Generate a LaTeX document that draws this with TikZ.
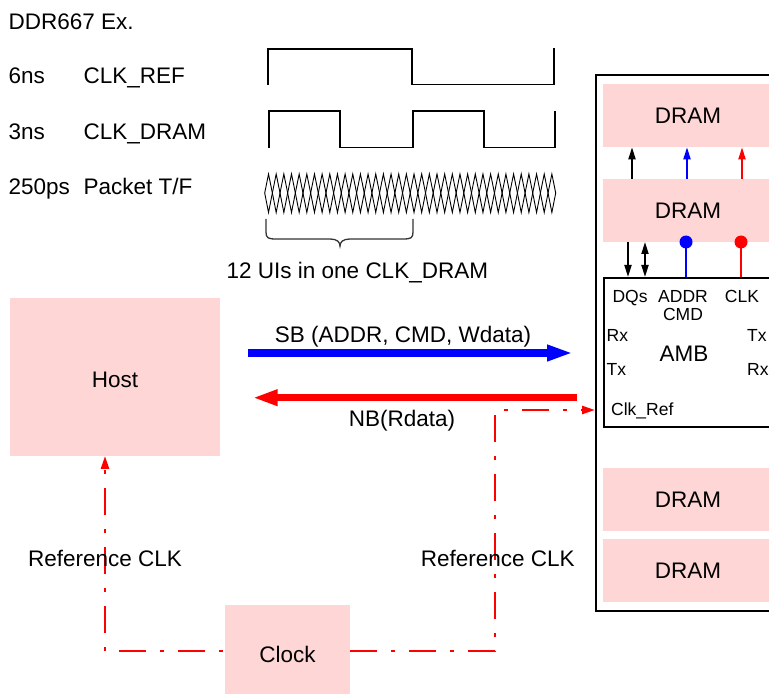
\documentclass[tikz,border=0pt]{standalone}
\usepackage{fontspec}
\setmainfont{Liberation Sans}
\usetikzlibrary{arrows.meta,calc}
\definecolor{pinkfill}{RGB}{255,214,214}
\newcommand\bigfnt{\fontsize{22.5}{27}\selectfont}
\newcommand\smallfnt{\fontsize{17.5}{19}\selectfont}
\begin{document}
\begin{tikzpicture}[x=1pt,y=-1pt,
  lbl/.style={font=\bigfnt, inner sep=0pt},
  slbl/.style={font=\smallfnt, inner sep=0pt},
  pinkbox/.style={fill=pinkfill, draw=none, font=\bigfnt, inner sep=0pt},
  frame/.style={draw, line width=2pt, inner sep=0pt, anchor=north west},
  wave/.style={line width=1.7pt, line join=miter},
  eye/.style={line width=0.9pt},
  bus/.style={line width=1.8pt},
  tipS/.style={-{Triangle[length=12pt,width=7pt]}},
  tipSS/.style={{Triangle[length=12pt,width=7pt]}-{Triangle[length=12pt,width=7pt]}},
  refclk/.style={red, line width=2.5pt, dash pattern=on 27pt off 14pt on 4pt off 14pt},
  reftip/.style={-{Triangle[length=13pt,width=8pt]}},
]
\useasboundingbox (0,0) rectangle (769,695);
\clip (0,0) rectangle (769,695);

% ---- timing labels
\node[lbl, anchor=base west] (title) at (8.4,30) {DDR667 Ex.};
\node[lbl, anchor=base west] (t6) at (8.4,83.3) {6ns};
\node[lbl, anchor=base west] (nref) at (83.4,83.3) {CLK\_REF};
\node[lbl, anchor=base west] (t3) at (8.4,140) {3ns};
\node[lbl, anchor=base west] (ndram) at (83.4,140) {CLK\_DRAM};
\node[lbl, anchor=base west] (t250) at (8.4,195) {250ps};
\node[lbl, anchor=base west] (npkt) at (83.4,195) {Packet T/F};

% ---- waveforms
\draw[wave] (268,85) -- (268,49) -- (412,49) -- (412,84.5) -- (554,84.5) -- (554,48.5);
\draw[wave] (269,148) -- (269,111) -- (340,111) -- (340,147.5) -- (413,147.5) -- (413,111) -- (484,111) -- (484,147.5) -- (555,147.5) -- (555,111.5);
\foreach \i in {0,...,37}{
  \draw[eye] ({264.7+\i*7.658},193) -- ({264.7+(\i+0.5)*7.658},174) -- ({264.7+(\i+1)*7.658},193) -- ({264.7+(\i+0.5)*7.658},212.5) -- cycle;
}
\draw[line width=1.3pt, black!80] (266,219) -- (266,232) .. controls (266,238) and (268,239) .. (276,239) -- (330,239) .. controls (337,239) and (340,242) .. (340,246) .. controls (340,242) and (343,239) .. (350,239) -- (403,239) .. controls (411,239) and (413,238) .. (413,232) -- (413,219);
\node[lbl, anchor=base west] (ui) at (226.5,278.3) {12 UIs in one CLK\_DRAM};

% ---- module
\node[frame, minimum width=200pt, minimum height=535.5pt] (module) at (595,74.5) {};
\node[pinkbox, minimum width=170pt, minimum height=63pt] (dram1) at (688,115.6) {DRAM};
\node[pinkbox, minimum width=170pt, minimum height=63pt] (dram2) at (688,210.3) {DRAM};
\node[pinkbox, minimum width=170pt, minimum height=63pt] (dram3) at (688,499.5) {DRAM};
\node[pinkbox, minimum width=170pt, minimum height=63pt] (dram4) at (688,570.3) {DRAM};
\node[frame, minimum width=190pt, minimum height=148.7pt] (amb) at (603,277) {};

\node[slbl, anchor=base] (dqs) at (630,302.7) {DQs};
\node[slbl, anchor=base] (addr) at (683,302.7) {ADDR};
\node[slbl, anchor=base] (cmd) at (683,320) {CMD};
\node[slbl, anchor=base] (clk) at (742,302.7) {CLK};
\node[slbl, anchor=base west] (rxl) at (606.5,341.7) {Rx};
\node[slbl, anchor=base west] (txl) at (606.5,375) {Tx};
\node[slbl, anchor=base west] (txr) at (747,341.7) {Tx};
\node[slbl, anchor=base west] (rxr) at (747,375) {Rx};
\node[slbl, anchor=base west] (clkref) at (611,415) {Clk\_Ref};
\node[lbl, anchor=base] (ambl) at (684,361) {AMB};

\coordinate (xdqU) at (632,0);
\coordinate (xad) at (687,0);
\coordinate (xck) at (742,0);
\coordinate (xdq1) at (628,0);
\coordinate (xdq2) at (645,0);
\coordinate (xad2) at (686,0);
\coordinate (xck2) at (741,0);

\draw[bus, tipS] (dram2.north -| xdqU) -- (dram1.south -| xdqU);
\draw[bus, blue, tipS] (dram2.north -| xad) -- (dram1.south -| xad);
\draw[bus, red, tipS] (dram2.north -| xck) -- (dram1.south -| xck);
\draw[bus, tipS] (dram2.south -| xdq1) -- (amb.north -| xdq1);
\draw[bus, tipSS] (dram2.south -| xdq2) -- (amb.north -| xdq2);
\coordinate (dotA) at (dram2.south -| xad2);
\coordinate (dotC) at (dram2.south -| xck2);
\draw[bus, blue] (amb.north -| xad2) -- (dotA);
\draw[bus, red] (amb.north -| xck2) -- (dotC);
\fill[blue] (dotA) circle[radius=6.5pt];
\fill[red] (dotC) circle[radius=6.5pt];

% ---- host and buses
\node[pinkbox, minimum width=210pt, minimum height=157.5pt] (host) at (115,377) {};
\node[lbl] (hostl) at (115,379.5) {Host};
\coordinate (sbS) at (248,353);
\coordinate (sbE) at (573,353);
\coordinate (nbS) at (577,397.7);
\coordinate (nbE) at (252.6,397.7);
\draw[blue, line width=7.3pt, -{Triangle[length=26pt,width=15pt]}] (sbS) -- (sbE);
\draw[red, line width=7.3pt, -{Triangle[length=25pt,width=15pt]}] (nbS) -- (nbE);
\node[lbl, anchor=base] (sb) at (403,342.5) {SB (ADDR, CMD, Wdata)};
\node[lbl, anchor=base] (nb) at (402,426.5) {NB(Rdata)};

% ---- clock
\node[pinkbox, minimum width=125pt, minimum height=89.3pt] (clock) at (287.5,649.6) {};
\node[lbl] (clockl) at (287.5,654) {Clock};
\coordinate (cornerL) at (105,651);
\coordinate (cornerR) at (495,651);
\coordinate (cornerT) at (495,410);
\draw[refclk, dash phase=39pt, reftip] (clock.west |- cornerL) -- (cornerL) -- (host.south -| cornerL);
\draw[refclk, reftip] (clock.east |- cornerR) -- (cornerR) -- (cornerT) -- (module.west |- cornerT);
\node[lbl, anchor=base west] (rcl) at (28,566.7) {Reference CLK};
\node[lbl, anchor=base west] (rcr) at (420.7,566.7) {Reference CLK};
\end{tikzpicture}
\end{document}
